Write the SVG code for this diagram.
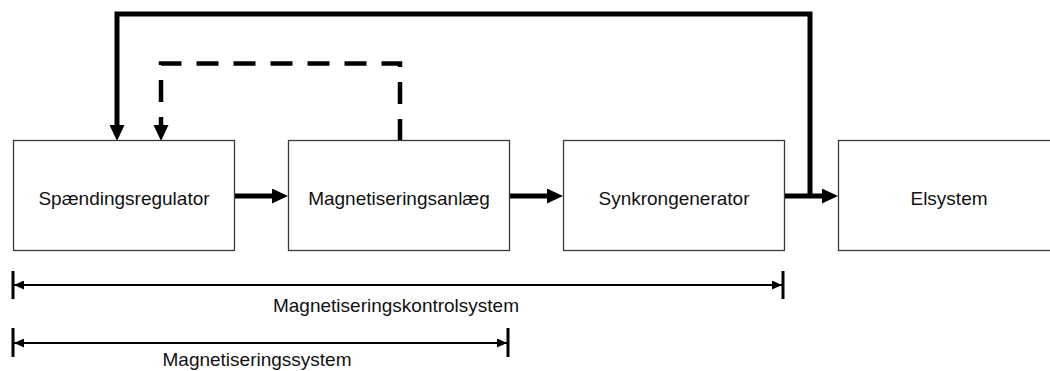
<svg xmlns="http://www.w3.org/2000/svg" width="1050" height="371" viewBox="0 0 1050 371">
  <style>
    .box { fill: #ffffff; stroke: #3a3a3a; stroke-width: 1.3; }
    .lbl { font-family: "Liberation Sans", Arial, sans-serif; font-size: 19px; fill: #111111; text-anchor: middle; }
    .thick { fill: none; stroke: #000000; stroke-width: 5; stroke-linejoin: miter; }
    .dash { fill: none; stroke: #000000; stroke-width: 4.5; stroke-dasharray: 22 15; }
    .dim { fill: none; stroke: #000000; stroke-width: 2; }
    .tick { stroke: #000000; stroke-width: 3; }
  </style>
  <defs>
    <marker id="big" viewBox="0 0 16 15" refX="0" refY="7.5" markerWidth="16" markerHeight="15" markerUnits="userSpaceOnUse" orient="auto">
      <polygon points="0,0 16,7.5 0,15" fill="#000000"/>
    </marker>
    <marker id="small" viewBox="0 0 10 9" refX="10" refY="4.5" markerWidth="10" markerHeight="9" markerUnits="userSpaceOnUse" orient="auto-start-reverse">
      <polygon points="0,0 10,4.5 0,9" fill="#000000"/>
    </marker>
  </defs>

  <g id="connectors">
    <path class="thick" d="M235 196 H272" marker-end="url(#big)"/>
    <path class="thick" d="M510 196 H547" marker-end="url(#big)"/>
    <path class="thick" d="M785 196 H822" marker-end="url(#big)"/>
    <path class="thick" d="M810 196 V14 H117 V125" marker-end="url(#big)"/>
    <path class="dash" d="M400 141 V63.5 H161 V125"/>
    <polygon points="153.5,125 168.5,125 161,141" fill="#000000"/>
    <path class="dim" d="M14 285 H782" marker-start="url(#small)" marker-end="url(#small)"/>
    <line class="tick" x1="13" y1="271" x2="13" y2="299"/>
    <line class="tick" x1="783" y1="271" x2="783" y2="299"/>
    <path class="dim" d="M14 343 H507" marker-start="url(#small)" marker-end="url(#small)"/>
    <line class="tick" x1="13" y1="328" x2="13" y2="357"/>
    <line class="tick" x1="508" y1="328" x2="508" y2="357"/>
  </g>

  <g id="spaendingsregulator">
    <rect class="box" x="13.5" y="140.5" width="221" height="110"/>
    <text class="lbl" x="124" y="205">Spændingsregulator</text>
  </g>
  <g id="magnetiseringsanlaeg">
    <rect class="box" x="288.5" y="140.5" width="221" height="110"/>
    <text class="lbl" x="399" y="205">Magnetiseringsanlæg</text>
  </g>
  <g id="synkrongenerator">
    <rect class="box" x="563.5" y="140.5" width="221" height="110"/>
    <text class="lbl" x="674" y="205">Synkrongenerator</text>
  </g>
  <g id="elsystem">
    <rect class="box" x="838.5" y="140.5" width="221" height="110"/>
    <text class="lbl" x="949" y="205">Elsystem</text>
  </g>

  <g id="dimension-labels">
    <text class="lbl" x="396" y="312">Magnetiseringskontrolsystem</text>
    <text class="lbl" x="257" y="366">Magnetiseringssystem</text>
  </g>
</svg>
